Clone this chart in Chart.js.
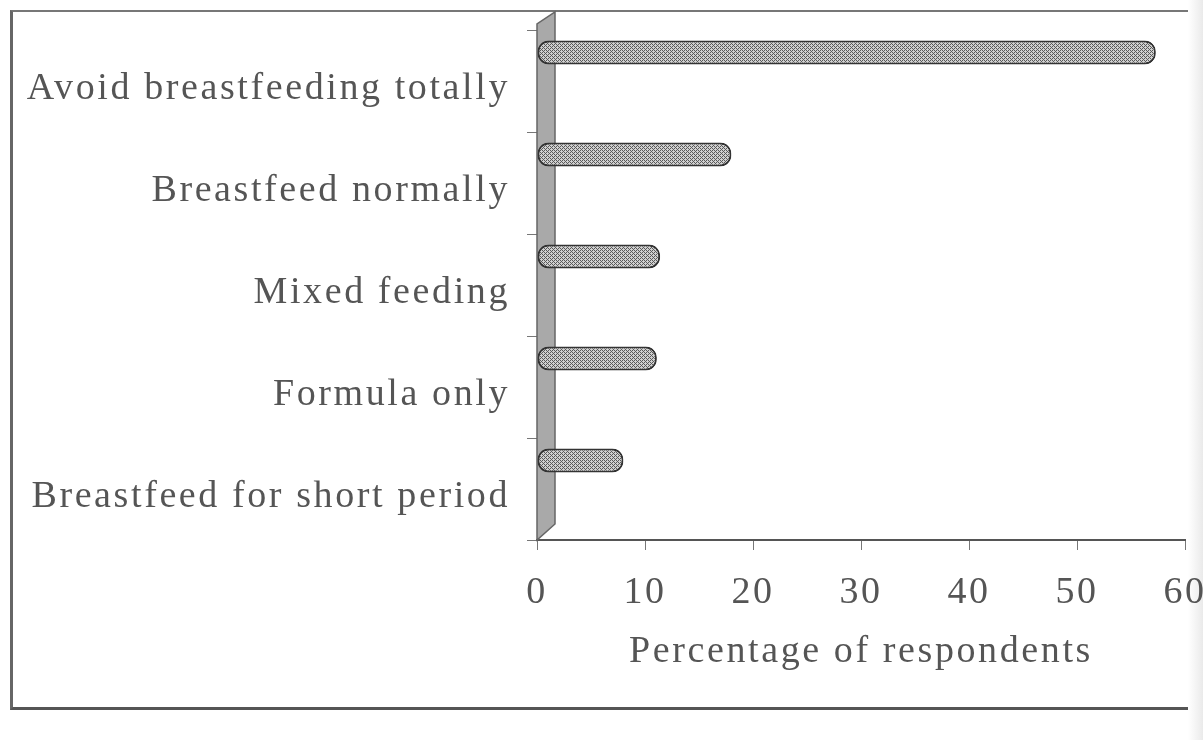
<!DOCTYPE html>
<html>
<head>
<meta charset="utf-8">
<script src="https://cdn.jsdelivr.net/npm/chart.js@4/dist/chart.umd.min.js"></script>
<style>
  html, body { margin: 0; padding: 0; background: #fff; }
  #wrap { position: relative; width: 1203px; height: 740px; overflow: hidden; }
  #frame {
    position: absolute; left: 10px; top: 10px; width: 1220px; height: 695px;
    border-left: 3px solid #666; border-top: 2px solid #777; border-bottom: 3px solid #555;
  }
  #shade {
    position: absolute; left: 1188px; top: 0; width: 15px; height: 740px;
    background: linear-gradient(to right, #fff, #eaeaea);
  }
  canvas { position: absolute; left: 0; top: 0; }
</style>
</head>
<body>
<div id="wrap">
  <div id="frame"></div>
  <div id="shade"></div>
  <canvas id="myChart" width="1203" height="740"></canvas>
</div>
<script>
const categories = ['Avoid breastfeeding totally', 'Breastfeed normally', 'Mixed feeding', 'Formula only', 'Breastfeed for short period'];
const percentages = [57.3, 18, 11.4, 11.1, 8];
const xTicks = [0, 10, 20, 30, 40, 50, 60];

const textColor = '#555';
const serif = "'Liberation Serif', 'DejaVu Serif', serif";

// fine cross hatch like the printed chart
function hatch() {
    const c = document.createElement('canvas');
    c.width = 4; c.height = 4;
    const g = c.getContext('2d');
    g.fillStyle = '#d0d0d0';
    g.fillRect(0, 0, 4, 4);
    g.fillStyle = '#5a5a5a';
    g.fillRect(0, 0, 1, 1);
    g.fillRect(1, 1, 1, 1);
    g.fillRect(2, 2, 1, 1);
    g.fillRect(3, 3, 1, 1);
    g.fillRect(2, 0, 1, 1);
    g.fillRect(0, 2, 1, 1);
    return g.createPattern(c, 'repeat');
}

const spacing = {
    id: 'spacing',
    beforeLayout(chart) { chart.ctx.letterSpacing = '2.6px'; },
    beforeDraw(chart) { chart.ctx.letterSpacing = '2.6px'; }
};

// grey 3D wall behind the category axis
const wall = {
    id: 'wall',
    beforeDatasetsDraw(chart) {
        const {ctx, chartArea: a} = chart;
        ctx.save();
        ctx.beginPath();
        ctx.moveTo(a.left, a.bottom);
        ctx.lineTo(a.left, a.top - 6);
        ctx.lineTo(a.left + 18, a.top - 18);
        ctx.lineTo(a.left + 18, a.bottom - 16);
        ctx.closePath();
        ctx.fillStyle = '#a9a9a9';
        ctx.fill();
        ctx.strokeStyle = '#666';
        ctx.lineWidth = 1.5;
        ctx.stroke();
        ctx.restore();
    }
};

const ctx = document.getElementById('myChart').getContext('2d');
const myChart = new Chart(ctx, {
    type: 'bar',
    data: {
        labels: categories,
        datasets: [{
            label: 'Percentage of respondents',
            data: percentages,
            backgroundColor: hatch(),
            borderColor: '#333',
            borderWidth: 2,
            borderRadius: 11,
            borderSkipped: false,
            categoryPercentage: 1.12,
            barPercentage: 0.42
        }, {
            // empty depth slot, pushes the bars to the back like the 3D original
            label: '',
            data: [],
            categoryPercentage: 1.12,
            barPercentage: 0.42
        }]
    },
    options: {
        indexAxis: 'y',
        responsive: false,
        animation: false,
        layout: { padding: { top: 30, right: 18, left: 0, bottom: 0 } },
        plugins: {
            legend: { display: false },
            tooltip: { enabled: false }
        },
        scales: {
            x: {
                min: 0,
                max: 60,
                afterBuildTicks: (s) => { s.ticks = xTicks.map(v => ({ value: v })); },
                afterFit: (s) => { s.height = 200; s.paddingLeft = 0; s.paddingRight = 0; },
                grid: { drawOnChartArea: false, color: '#777', tickLength: 10 },
                border: { color: '#555', width: 2 },
                ticks: { color: textColor, font: { family: serif, size: 38 }, padding: 20 },
                title: {
                    display: true,
                    text: 'Percentage of respondents',
                    color: textColor,
                    font: { family: serif, size: 38 },
                    padding: { top: 0, bottom: 65 }
                }
            },
            y: {
                afterFit: (s) => { s.width = 537; s.paddingTop = 0; s.paddingBottom = 0; },
                grid: { drawOnChartArea: false, offset: true, color: '#777', tickLength: 10 },
                border: { display: false },
                ticks: { color: textColor, font: { family: serif, size: 38 }, padding: 17, labelOffset: 8 }
            }
        }
    },
    plugins: [spacing, wall]
});
</script>
</body>
</html>
